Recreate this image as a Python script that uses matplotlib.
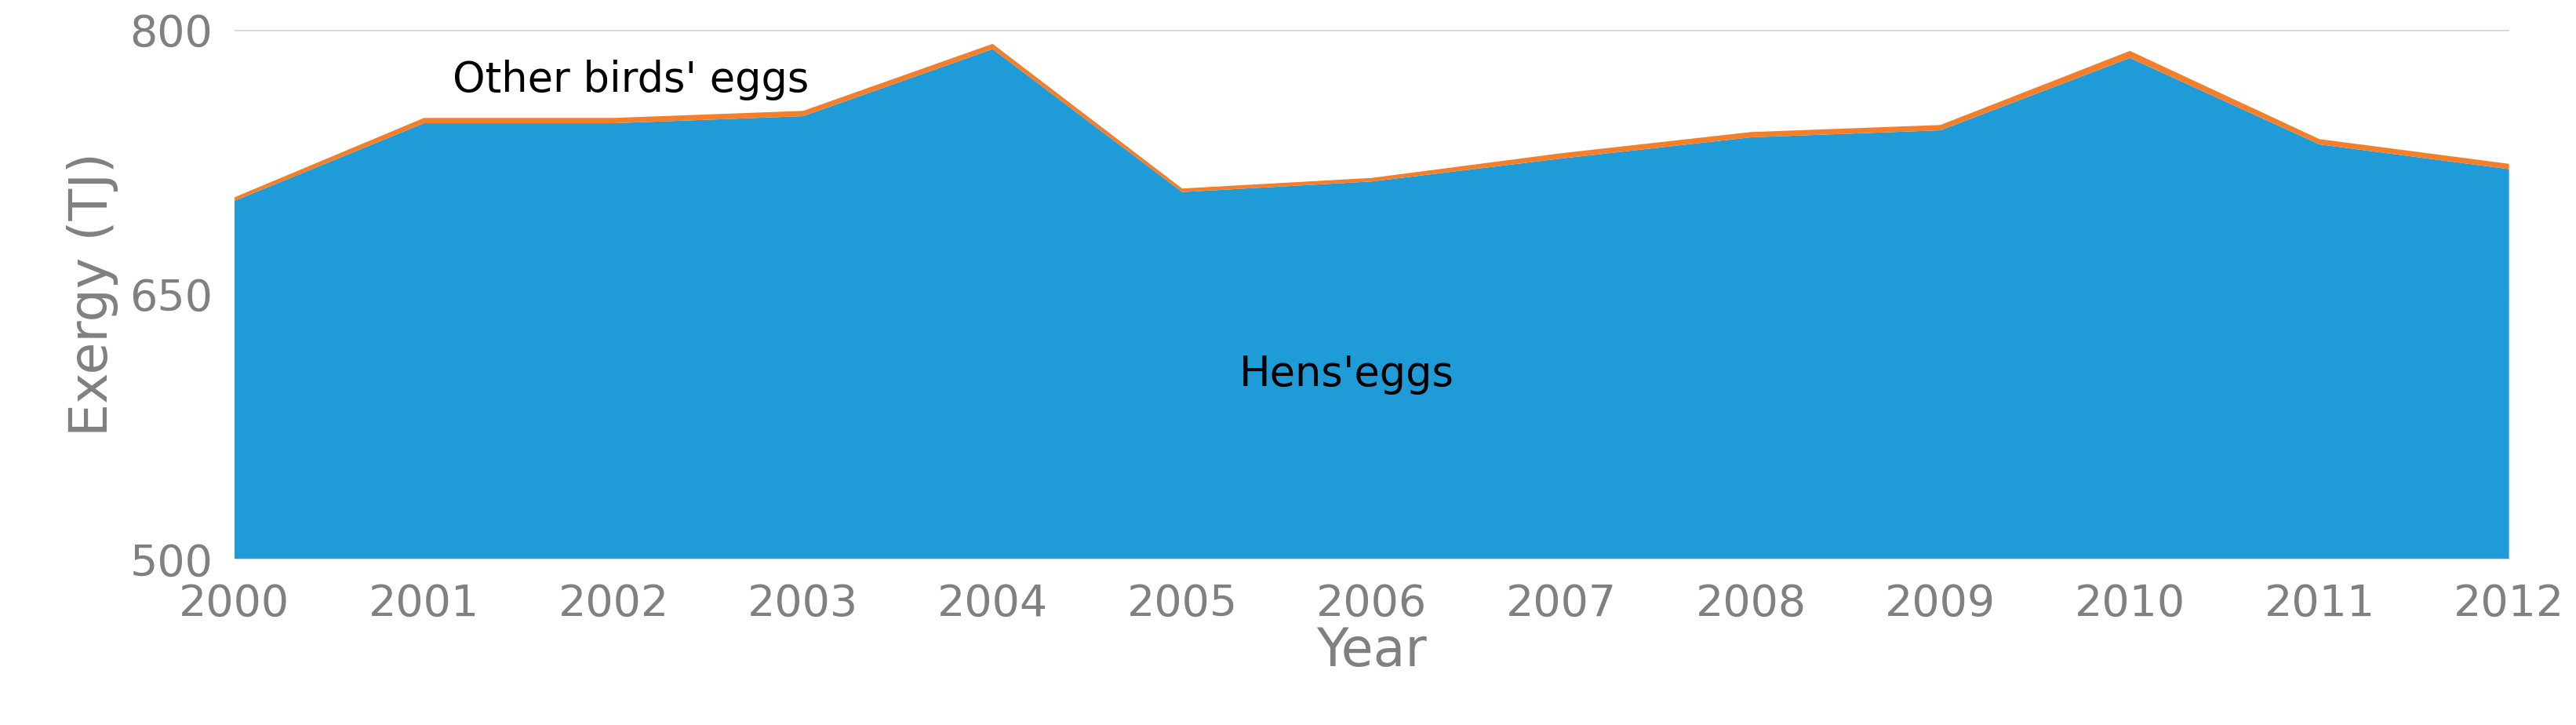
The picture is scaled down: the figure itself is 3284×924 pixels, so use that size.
import matplotlib.pyplot as plt

years = list(range(2000, 2013))
hens = [703, 747, 747, 751, 789, 708, 714, 727, 739, 743, 784, 735, 721]
other = [2, 3, 3, 3, 3, 2, 2, 3, 3, 3, 4, 3, 3]

fig = plt.figure(figsize=(32.84, 9.24), dpi=100)
ax = fig.add_axes([0.091, 0.229, 0.883, 0.73])
ax.stackplot(years, hens, other, colors=['#1f9bd7', '#f47f2a'])
ax.set_xlim(2000, 2012)
ax.set_ylim(500, 800)
ax.set_yticks([500, 650, 800])
ax.set_xticks(years)
ax.grid(axis='y', color='#d9d9d9', linewidth=2)
ax.set_axisbelow(True)
for s in ['top', 'right', 'left']:
    ax.spines[s].set_visible(False)
ax.spines['bottom'].set_color('#d9d9d9')
ax.tick_params(axis='x', length=0, labelsize=40, labelcolor='#808080', pad=22)
ax.tick_params(axis='y', length=0, labelsize=40, labelcolor='#808080', pad=20)
ax.set_xlabel('Year', fontsize=48, color='#808080', labelpad=0)
ax.set_ylabel('Exergy (TJ)', fontsize=48, color='#808080', labelpad=10)
ax.text(2001.15, 765, "Other birds' eggs", fontsize=38, color='black')
ax.text(2005.3, 598, "Hens'eggs", fontsize=38, color='black')
fig.savefig('out.png')
